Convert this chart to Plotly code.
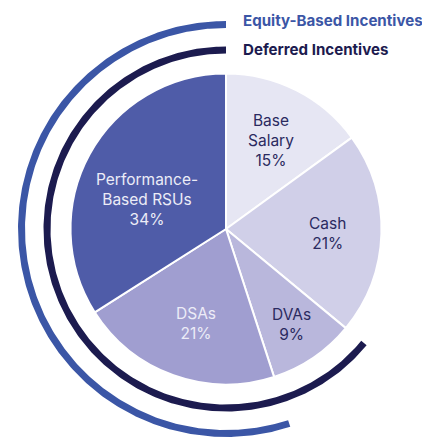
import numpy as np
import plotly.graph_objects as go

# ---- data ----
categories = ["Base Salary", "Cash", "DVAs", "DSAs", "Performance-Based RSUs"]
display_names = ["Base<br>Salary", "Cash", "DVAs", "DSAs", "Performance-<br>Based RSUs"]
values = [15, 21, 9, 21, 34]
group_names = ["Equity-Based Incentives", "Deferred Incentives"]
group_members = [["DSAs", "Performance-Based RSUs"],
                 ["DVAs", "DSAs", "Performance-Based RSUs"]]

# ---- styles ----
OFF = 8                          # page body margin
W, H = 430 - OFF, 437 - OFF
CX, CY = 226 - OFF, H - (229 - OFF)   # centre (y measured upward)
PIE_R = 155.5
slice_colors = ["#e6e6f3", "#d0cfe8", "#b9b7dc", "#a09ed0", "#4f5ca8"]
label_colors = ["#2b2a60", "#2b2a60", "#2b2a60", "#ececf7", "#ececf7"]
label_r = [99, 102, 116, 99, 84]
label_dtheta = [0, 1, 0, -2, -8]
group_colors = ["#3b56a6", "#1c1b4f"]
group_r = [(201, 208), (175.5, 182.5)]
legend_y = [20 - OFF, 49 - OFF]      # from top, px
legend_x = 241 - OFF
FONT = "Inter"

total = float(sum(values))
starts = np.cumsum([0] + values[:-1]) / total * 360.0
mids = starts + np.array(values) / total * 180.0


def polar_xy(r, theta_deg):
    t = np.radians(theta_deg)
    return CX + r * np.sin(t), CY + r * np.cos(t)


fig = go.Figure()

# group arcs (annular sectors)
for name, members, col, (r0, r1) in zip(group_names, group_members, group_colors, group_r):
    idx = [categories.index(m) for m in members]
    t0 = min(starts[i] for i in idx)
    t1 = max(starts[i] + values[i] / total * 360.0 for i in idx)
    th = np.linspace(t0, t1, 300)
    xo, yo = polar_xy(r1, th)
    xi, yi = polar_xy(r0, th[::-1])
    fig.add_trace(go.Scatter(
        x=np.concatenate([xo, xi, xo[:1]]), y=np.concatenate([yo, yi, yo[:1]]),
        fill="toself", fillcolor=col, line=dict(width=0, color=col),
        mode="lines", hoverinfo="skip", showlegend=False, name=name))

# pie
fig.add_trace(go.Pie(
    labels=categories, values=values, sort=False, direction="clockwise",
    rotation=0, textinfo="none", hoverinfo="label+percent",
    marker=dict(colors=slice_colors, line=dict(color="white", width=2)),
    domain=dict(x=[(CX - PIE_R) / W, (CX + PIE_R) / W],
                y=[(CY - PIE_R) / H, (CY + PIE_R) / H]),
    showlegend=False))

annotations = []
for name, v, m, r, dt, c in zip(display_names, values, mids, label_r, label_dtheta, label_colors):
    x, y = polar_xy(r, m + dt)
    annotations.append(dict(
        x=x, y=y, xref="x", yref="y", text=f"{name}<br>{v}%", showarrow=False,
        font=dict(family=FONT, size=15.5, color=c), align="center",
        xanchor="center", yanchor="middle"))

for name, col, ly in zip(group_names, group_colors, legend_y):
    annotations.append(dict(
        x=legend_x, y=H - ly, xref="x", yref="y", text=f"<b>{name}</b>", showarrow=False,
        font=dict(family=FONT, size=15.1, color=col), xanchor="left", yanchor="middle"))

fig.update_layout(
    width=W, height=H, margin=dict(l=0, r=0, t=0, b=0),
    paper_bgcolor="white", plot_bgcolor="white",
    xaxis=dict(range=[0, W], visible=False, fixedrange=True),
    yaxis=dict(range=[0, H], visible=False, fixedrange=True),
    annotations=annotations, showlegend=False)

fig.write_html("out.html")
